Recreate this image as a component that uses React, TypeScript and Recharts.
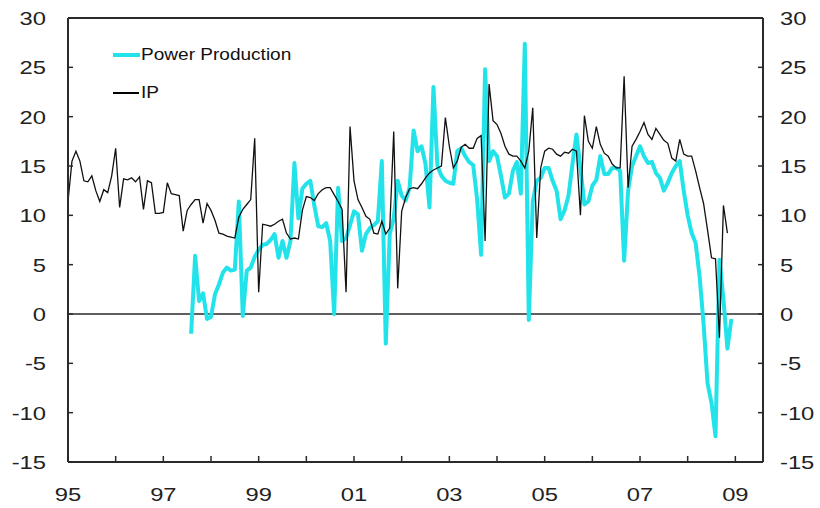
import React from "react";
import { LineChart, Line, XAxis, YAxis, ReferenceLine, Legend } from "recharts";

const START_YEAR = 1995;
const POWER_START_INDEX = 31; // Aug 1997
const X_TICKS = [1995, 1996, 1997, 1998, 1999, 2000, 2001, 2002, 2003, 2004, 2005, 2006, 2007, 2008, 2009];
const Y_TICKS = [-15, -10, -5, 0, 5, 10, 15, 20, 25, 30];

// Industrial production, % y/y, monthly from Jan 1995
const IP_VALUES = [
  11.4, 15.5, 16.5, 15.5, 13.5, 13.4, 14.0, 12.5, 11.4, 12.6, 12.3, 14.0,
  16.8, 10.8, 13.7, 13.6, 13.8, 13.4, 13.9, 10.6, 13.5, 13.3, 10.2, 10.2,
  10.3, 13.3, 12.2, 12.1, 12.0, 8.4, 10.5, 11.1, 11.6, 11.6, 9.2, 11.2,
  10.5, 9.5, 8.2, 8.1, 7.9, 7.8, 7.7, 9.8, 10.6, 11.1, 11.6, 17.8,
  2.2, 9.1, 9.0, 8.9, 9.1, 9.4, 9.6, 8.2, 7.6, 7.7, 7.6, 10.5,
  11.9, 11.8, 11.5, 12.2, 12.6, 12.8, 12.8, 12.1, 11.4, 10.6, 2.2, 19.0,
  13.5, 11.6, 10.8, 9.9, 9.6, 8.2, 8.1, 9.4, 8.1, 8.7, 18.5, 2.6,
  10.4, 11.8, 12.7, 12.8, 12.7, 13.2, 13.8, 14.3, 14.6, 14.8, 15.0, 19.9,
  17.0, 14.8, 15.5, 16.9, 17.2, 16.8, 16.8, 17.8, 18.1, 7.4, 23.3, 19.6,
  19.2, 18.3, 17.0, 16.2, 16.0, 16.0, 15.5, 14.8, 16.5, 20.9, 7.7, 14.8,
  16.5, 16.8, 16.7, 16.2, 16.0, 16.4, 16.3, 16.7, 16.5, 10.0, 20.1, 17.5,
  16.8, 19.0, 17.2, 16.3, 16.0, 15.2, 14.8, 14.8, 24.1, 12.8, 17.0, 17.7,
  18.5, 19.4, 18.2, 17.7, 18.8, 18.2, 17.6, 17.3, 15.8, 15.5, 17.7, 16.2,
  16.0, 16.0, 14.5, 12.8, 11.2, 8.5, 5.7, 5.6, -2.4, 11.0, 8.2,
];

// Power production, % y/y, monthly from Aug 1997
const POWER_VALUES = [
  -2.0, 5.9, 1.3, 2.1, -0.5,
  -0.3, 2.0, 3.0, 4.2, 4.7, 4.4, 4.5, 11.4, -0.2, 4.4, 4.7, 5.8,
  6.5, 7.0, 7.1, 7.5, 8.1, 5.7, 7.4, 5.7, 7.4, 15.3, 9.7, 12.7,
  13.2, 13.5, 11.0, 8.9, 8.8, 9.2, 7.4, 0.0, 12.8, 7.4, 7.7, 9.0,
  10.4, 10.1, 6.4, 8.1, 8.7, 9.0, 9.4, 15.5, -3.0, 8.1, 9.7, 13.5,
  12.0, 11.5, 12.8, 18.6, 16.5, 17.0, 15.2, 10.8, 23.0, 15.0, 14.0, 13.5,
  13.3, 13.2, 16.5, 16.8, 16.0, 15.4, 15.1, 11.6, 6.0, 24.8, 15.5, 16.5,
  16.0, 14.0, 11.8, 12.2, 14.5, 15.4, 12.2, 27.4, -0.6, 11.4, 13.5, 13.8,
  14.8, 14.8, 13.5, 12.5, 9.6, 10.5, 12.0, 15.2, 18.2, 14.8, 11.1, 11.4,
  13.0, 13.6, 16.0, 14.2, 14.2, 14.8, 14.8, 14.5, 5.4, 12.5, 15.0, 16.0,
  17.0, 16.0, 15.3, 15.4, 14.3, 13.8, 12.5, 13.3, 14.3, 15.0, 15.5, 12.5,
  10.0, 8.2, 7.2, 3.8, -1.0, -7.0, -9.0, -12.4, 5.5, 1.5, -3.5, -0.5,
];

const TOTAL = Math.max(IP_VALUES.length, POWER_START_INDEX + POWER_VALUES.length);
const data = Array.from({ length: TOTAL }, (_, i) => ({
  t: START_YEAR + i / 12,
  ip: i < IP_VALUES.length ? IP_VALUES[i] : null,
  power: i >= POWER_START_INDEX && i - POWER_START_INDEX < POWER_VALUES.length ? POWER_VALUES[i - POWER_START_INDEX] : null,
}));

const FONT = "'Liberation Sans', Arial, sans-serif";
const AXIS = "#2a2a2a";
const CYAN = "#22E2EA";
const TICK_FONT = 19;
const STRETCH = 1.25;

const TickText = ({ x, y, dy, anchor, children }: any) => (
  <text
    transform={`translate(${x},${y}) scale(${STRETCH},1)`}
    x={0}
    y={0}
    dy={dy}
    textAnchor={anchor}
    fontSize={TICK_FONT}
    fontFamily={FONT}
    fill="#222"
  >
    {children}
  </text>
);

const LeftTick = (props: any) => {
  const { x, y, payload } = props;
  return (
    <g>
      <line x1={x + 22} x2={x + 27} y1={y} y2={y} stroke={AXIS} strokeWidth={1.5} />
      <TickText x={x} y={y} dy={7} anchor="end">{payload.value}</TickText>
    </g>
  );
};

const RightTick = (props: any) => {
  const { x, y, payload } = props;
  return (
    <g>
      <line x1={x - 17} x2={x - 22} y1={y} y2={y} stroke={AXIS} strokeWidth={1.5} />
      <TickText x={x} y={y} dy={7} anchor="start">{payload.value}</TickText>
    </g>
  );
};

const BottomTick = (props: any) => {
  const { x, y, payload } = props;
  const yr = Math.round(payload.value);
  const label = yr % 2 === 1 ? String(yr % 100).padStart(2, "0") : "";
  return (
    <g>
      <line x1={x} x2={x} y1={y - 25} y2={y - 31} stroke={AXIS} strokeWidth={1.5} />
      <TickText x={x} y={y} dy={14} anchor="middle">{label}</TickText>
    </g>
  );
};

const legendText: React.CSSProperties = {
  display: "inline-block",
  transform: "scaleX(1.12)",
  transformOrigin: "left center",
};

const LegendContent = () => (
  <div style={{ fontFamily: FONT, fontSize: 17, color: "#111", lineHeight: "20px", whiteSpace: "nowrap" }}>
    <div style={{ display: "flex", alignItems: "center", height: 20 }}>
      <span style={{ display: "inline-block", width: 27, height: 4, background: CYAN, marginRight: 1 }} />
      <span style={legendText}>Power Production</span>
    </div>
    <div style={{ display: "flex", alignItems: "center", height: 20, marginTop: 18 }}>
      <span style={{ display: "inline-block", width: 26, height: 1.5, background: "#000", marginRight: 2 }} />
      <span style={legendText}>IP</span>
    </div>
  </div>
);

export default function App() {
  return (
    <div style={{ position: "absolute", left: 0, top: 0, width: 820, height: 508, background: "#fff", overflow: "hidden" }}>
      <LineChart width={820} height={508} data={data} margin={{ top: 18, right: 0, bottom: 0, left: 0 }}>
        <XAxis
          dataKey="t"
          type="number"
          domain={[1995, 2009.58]}
          ticks={X_TICKS}
          allowDataOverflow
          height={46}
          tickSize={0}
          tickMargin={25}
          tick={<BottomTick />}
          axisLine={{ stroke: AXIS, strokeWidth: 2 }}
          tickLine={false}
          interval={0}
        />
        <YAxis
          yAxisId="left"
          domain={[-15, 30]}
          ticks={Y_TICKS}
          width={68}
          tickSize={0}
          tickMargin={22}
          tick={<LeftTick />}
          axisLine={{ stroke: AXIS, strokeWidth: 2 }}
          tickLine={false}
          interval={0}
          allowDataOverflow
        />
        <YAxis
          yAxisId="right"
          orientation="right"
          domain={[-15, 30]}
          ticks={Y_TICKS}
          width={57}
          tickSize={0}
          tickMargin={17}
          tick={<RightTick />}
          axisLine={{ stroke: AXIS, strokeWidth: 2 }}
          tickLine={false}
          interval={0}
          allowDataOverflow
        />
        <ReferenceLine yAxisId="left" y={30} stroke={AXIS} strokeWidth={2} />
        <ReferenceLine yAxisId="left" y={0} stroke={AXIS} strokeWidth={1.3} />
        <Legend
          verticalAlign="middle"
          align="center"
          layout="vertical"
          content={<LegendContent />}
          wrapperStyle={{ left: 113, top: 45, width: 220, height: 60 }}
        />
        <Line
          yAxisId="right"
          type="linear"
          dataKey="ip"
          stroke="none"
          strokeWidth={0}
          dot={false}
          activeDot={false}
          legendType="none"
          isAnimationActive={false}
        />
        <Line
          yAxisId="left"
          type="linear"
          dataKey="power"
          stroke={CYAN}
          strokeWidth={4}
          dot={false}
          isAnimationActive={false}
          connectNulls={false}
          strokeLinejoin="round"
        />
        <Line
          yAxisId="left"
          type="linear"
          dataKey="ip"
          stroke="#111"
          strokeWidth={1.3}
          dot={false}
          isAnimationActive={false}
          connectNulls={false}
        />
      </LineChart>
    </div>
  );
}
